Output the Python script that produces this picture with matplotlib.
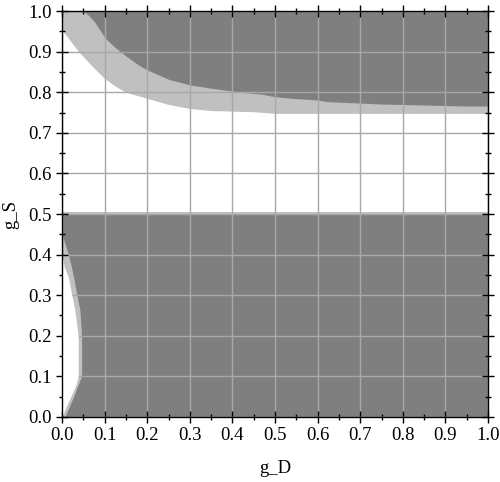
import matplotlib
matplotlib.use("Agg")
import matplotlib.pyplot as plt
from matplotlib.ticker import MultipleLocator, FormatStrFormatter
import numpy as np

plt.rcParams['font.family'] = ['Liberation Serif', 'DejaVu Serif']

# Upper region: dark boundary (above -> dark), white boundary (below -> white)
upper_dark_gD = [0.05, 0.062, 0.075, 0.088, 0.1, 0.12, 0.137, 0.157, 0.18, 0.2, 0.25, 0.3, 0.35, 0.42, 0.47, 0.5, 0.54, 0.6, 0.62, 0.75, 0.95, 1.0]
upper_dark_gS = [1.0, 0.99, 0.975, 0.955, 0.935, 0.915, 0.9, 0.884, 0.867, 0.855, 0.832, 0.818, 0.81, 0.80, 0.795, 0.789, 0.785, 0.781, 0.777, 0.771, 0.766, 0.766]

upper_white_gD = [0.0, 0.01, 0.039, 0.07, 0.1, 0.125, 0.15, 0.2, 0.25, 0.3, 0.35, 0.45, 0.5, 1.0]
upper_white_gS = [0.952, 0.94, 0.9, 0.865, 0.834, 0.815, 0.80, 0.785, 0.77, 0.760, 0.755, 0.752, 0.748, 0.748]

# Lower region: dark for g_S < 0.5 except near g_D = 0
lower_gS       = [0.0, 0.02, 0.04, 0.06, 0.08, 0.1, 0.2, 0.264, 0.30, 0.345, 0.37, 0.40, 0.44, 0.45, 0.50]
lower_dark_gD  = [0.007, 0.015, 0.023, 0.031, 0.038, 0.046, 0.046, 0.042, 0.035, 0.027, 0.022, 0.015, 0.003, 0.0, 0.0]
lower_white_gD = [0.0, 0.008, 0.016, 0.025, 0.033, 0.038, 0.038, 0.03, 0.023, 0.015, 0.005, 0.0, 0.0, 0.0, 0.0]
split_gS = 0.5

DARK = '#7f7f7f'
LIGHT = '#c0c0c0'

fig = plt.figure(figsize=(5.0, 4.82), dpi=100)
ax = fig.add_axes([0.124, 0.135, 0.852, 0.842])

# lower region
ax.fill_between([0, 1], [0, 0], [split_gS, split_gS], color=DARK, lw=0, zorder=1)
ax.fill_between([0, 1], [split_gS, split_gS], [split_gS + 0.004, split_gS + 0.004], color=LIGHT, lw=0, zorder=1)
ax.fill_betweenx(lower_gS, 0, lower_dark_gD, color=LIGHT, lw=0, zorder=2)
ax.fill_betweenx(lower_gS, 0, lower_white_gD, color='white', lw=0, zorder=3)

# upper region
ax.fill_between(upper_white_gD, upper_white_gS, 1.0, color=LIGHT, lw=0, zorder=1)
ax.fill_between(upper_dark_gD, upper_dark_gS, 1.0, color=DARK, lw=0, zorder=2)

ax.set_xlim(0, 1)
ax.set_ylim(0, 1)

ax.xaxis.set_major_locator(MultipleLocator(0.1))
ax.xaxis.set_minor_locator(MultipleLocator(0.05))
ax.yaxis.set_major_locator(MultipleLocator(0.1))
ax.yaxis.set_minor_locator(MultipleLocator(0.05))
ax.xaxis.set_major_formatter(FormatStrFormatter('%.1f'))
ax.yaxis.set_major_formatter(FormatStrFormatter('%.1f'))

ax.grid(True, which='major', color='#a8a8a8', lw=1.0, zorder=5)
ax.set_axisbelow(False)

ax.tick_params(which='major', direction='inout', length=9, width=1.0,
               top=True, right=True, labelsize=13.5, pad=3)
ax.tick_params(which='minor', direction='inout', length=5, width=1.0,
               top=True, right=True)
for s in ax.spines.values():
    s.set_linewidth(1.0)
    s.set_zorder(6)

ax.set_xlabel('g_D', fontsize=13.5, labelpad=11)
ax.set_ylabel('g_S', fontsize=13.5, labelpad=6)

fig.savefig('out.png', dpi=100)
